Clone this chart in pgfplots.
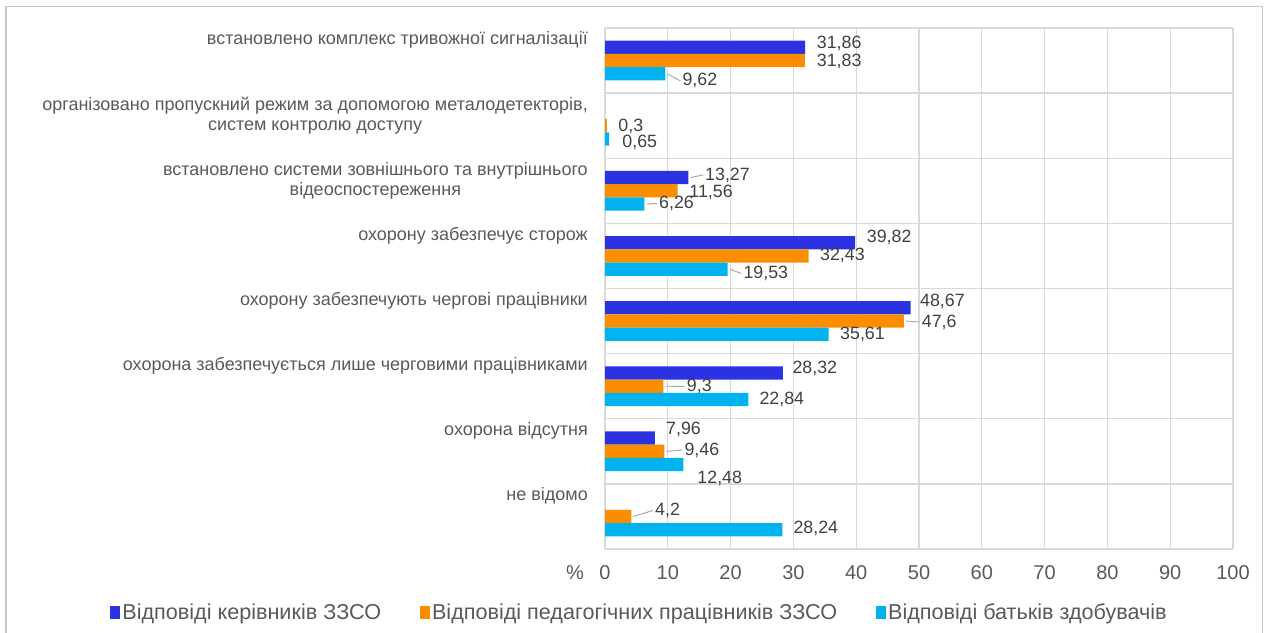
\documentclass[border=0pt]{standalone}
\usepackage{fontspec}
\setmainfont{Liberation Sans}
\usepackage{pgfplots}
\pgfplotsset{compat=1.18}
\definecolor{cblue}{HTML}{2B32E1}
\definecolor{corange}{HTML}{FA8E00}
\definecolor{ccyan}{HTML}{00B2EE}
\definecolor{tgray}{HTML}{595959}
\definecolor{lgray}{HTML}{404040}
\definecolor{gridc}{HTML}{D9D9D9}
\definecolor{framec}{HTML}{C8C8C8}
\definecolor{leaderc}{HTML}{A6A6A6}
\tikzset{
  leader0/.style={},
  leader1/.style={append after command={([xshift=-2pt]\tikzlastnode.west) edge[draw=leaderc, line width=0.9pt] ([xshift={(2-\labdx)*1pt}, yshift={-\labdy*1pt}]\tikzlastnode.west)}},
}
\begin{document}
\begin{tikzpicture}
\useasboundingbox (0pt,0pt) rectangle (1266pt,632pt);
\draw[color=framec, line width=1.2pt] (6pt,-5pt) -- (6pt,625.3pt) -- (1262.5pt,625.3pt) -- (1262.5pt,-5pt);
\begin{axis}[
  at={(605pt,83pt)}, anchor=south west,
  scale only axis, width=628pt, height=521pt,
  xbar, bar width=0.2035,
  xmin=0, xmax=100, ymin=-0.5, ymax=7.5,
  xtick={0,10,...,100},
  ytick={0,...,7},
  minor ytick={-0.5,0.5,...,7.5},
  yticklabels={не відомо, охорона відсутня, охорона забезпечується лише черговими працівниками, охорону забезпечують чергові працівники, охорону забезпечує сторож, {встановлено системи зовнішнього та внутрішнього\\відеоспостереження}, {організовано пропускний режим за допомогою металодетекторів,\\систем контролю доступу}, встановлено комплекс тривожної сигналізації},
  major tick length=0pt, minor tick length=0pt,
  axis line style={draw=none},
  xmajorgrids=true, ymajorgrids=false, yminorgrids=true,
  major grid style={draw=gridc, line width=1.3pt},
  minor grid style={draw=gridc, line width=1.3pt},
  /pgf/number format/assume math mode=true,
  xticklabel style={anchor=center, inner sep=0pt, yshift=-24pt, font=\fontsize{20}{24}\selectfont, text=tgray},
  yticklabel style={anchor=north east, align=center, inner sep=0pt, xshift=-17pt, yshift=29pt, font=\fontsize{18}{20}\selectfont, text=tgray},
  nodes near coords,
  point meta=explicit symbolic,
  visualization depends on={value \thisrow{dx} \as \labdx},
  visualization depends on={value \thisrow{dy} \as \labdy},
  visualization depends on={value \thisrow{ld} \as \labld},
  every node near coord/.append style={anchor=west, inner sep=0pt, xshift=\labdx pt, yshift=\labdy pt, font=\fontsize{17.8}{20}\selectfont, text=lgray, leader\labld},
  legend columns=3,
  legend style={at={(axis description cs:0.055,-0.121)}, anchor=center, draw=none, fill=none,
    font=\fontsize{21.6}{24}\selectfont, text=tgray,
    /tikz/every even column/.append style={column sep=37pt},
    nodes={inner sep=2pt}},
  clip=false,
]
\addplot[fill=cblue, draw=none, bar shift=0.2035, legend image code/.code={\fill[cblue] (0pt,-6.5pt) rectangle (10pt,6.5pt);}] table[x=x, y=y, meta=lab] {
x y lab dx dy ld
31.86 7 31,86 11.6 3.8 0
13.27 5 13,27 16.7 2.6 1
39.82 4 39,82 11.6 5.2 0
48.67 3 48,67 9.3 6.3 0
28.32 2 28,32 9.5 4.4 0
7.96 1 7,96 11 8.5 0
};
\addlegendentry{Відповіді керівників ЗЗСО}
\addplot[fill=corange, draw=none, bar shift=0, legend image code/.code={\fill[corange] (0pt,-6.5pt) rectangle (10pt,6.5pt);}] table[x=x, y=y, meta=lab] {
x y lab dx dy ld
31.83 7 31,83 11.8 -0.4 0
0.3 6 0,3 11.4 -0.3 0
11.56 5 11,56 11.7 -1.2 0
32.43 4 32,43 11.3 0.5 0
47.6 3 47,6 17.8 -0.9 1
9.3 2 9,3 23.3 -0.3 1
9.46 1 9,46 19.9 1.3 1
4.2 0 4,2 23.6 6 1
};
\addlegendentry{Відповіді педагогічних працівників ЗЗСО}
\addplot[fill=ccyan, draw=none, bar shift=-0.2035, legend image code/.code={\fill[ccyan] (0pt,-6.5pt) rectangle (10pt,6.5pt);}] table[x=x, y=y, meta=lab] {
x y lab dx dy ld
9.62 7 9,62 16.9 -7.1 1
0.65 6 0,65 13.2 -3 0
6.26 5 6,26 14.7 0.6 1
19.53 4 19,53 15.7 -4.2 1
35.61 3 35,61 11.4 -0.6 0
22.84 2 22,84 10.9 0 0
12.48 1 12,48 13.9 -13.4 0
28.24 0 28,24 11 1.3 0
};
\addlegendentry{Відповіді батьків здобувачів}
\node[anchor=center, inner sep=0pt, font=\fontsize{20}{24}\selectfont, text=tgray] at (axis description cs:0,0) [xshift=-30pt, yshift=-24pt] {\%};
\end{axis}
\end{tikzpicture}
\end{document}
